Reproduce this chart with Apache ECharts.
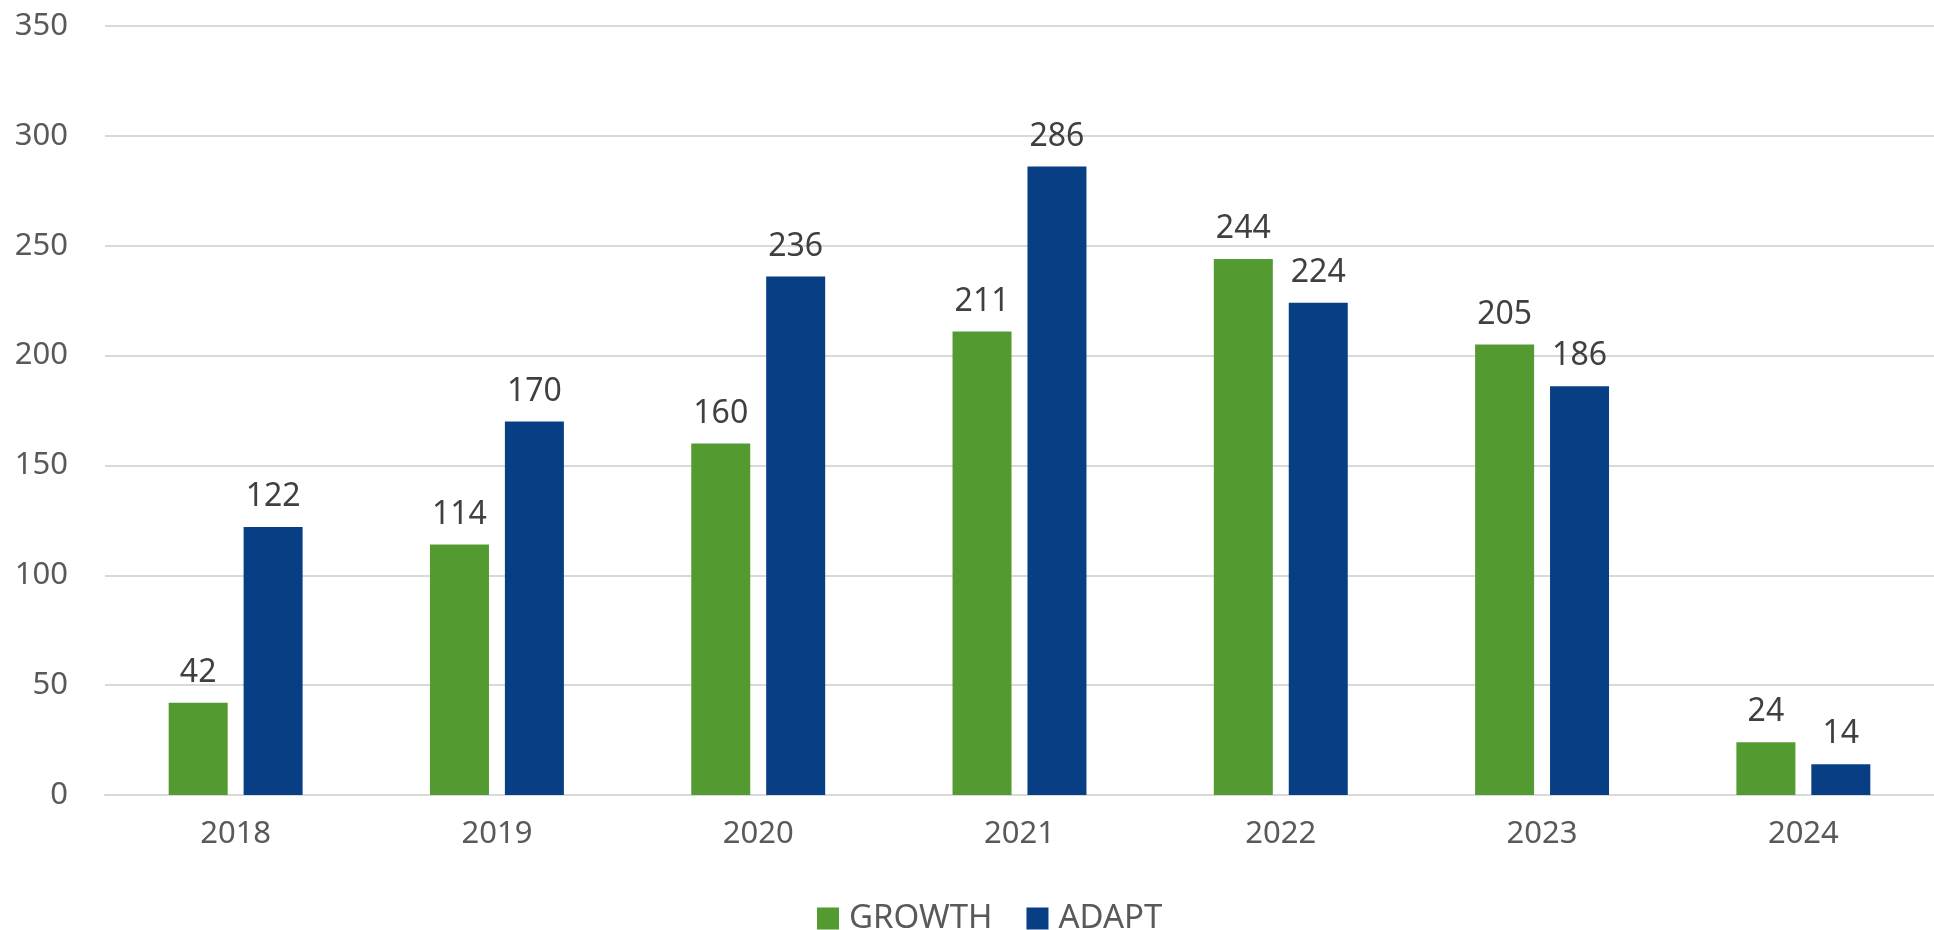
<!DOCTYPE html>
<html>
<head>
<meta charset="utf-8">
<script src="https://cdn.jsdelivr.net/npm/echarts@6/dist/echarts.min.js"></script>
<style>
html,body{margin:0;padding:0;background:#fff;}
#chart{width:1934px;height:930px;}
</style>
</head>
<body>
<div id="chart"></div>
<script>
const categories = ['2018','2019','2020','2021','2022','2023','2024'];
const growth = [42,114,160,211,244,205,24];
const adapt = [122,170,236,286,224,186,14];
const seriesNames = ['GROWTH','ADAPT'];

const chart = echarts.init(document.getElementById('chart'));
const font = '"Noto Sans", sans-serif';
const labelCfg = {
  show: true, position: 'top', distance: 14,
  color: '#404040', fontSize: 32, fontFamily: font
};
chart.setOption({
  animation: false,
  backgroundColor: '#fff',
  grid: {left: 105, right: 0, top: 26, bottom: 135, containLabel: false},
  legend: {
    data: seriesNames,
    top: 897, left: 812,
    itemWidth: 22, itemHeight: 22, itemGap: 34,
    icon: 'rect',
    textStyle: {color: '#595959', fontSize: 33, fontFamily: font, padding: [0, 0, 0, 5]}
  },
  xAxis: {
    type: 'category', data: categories,
    axisLine: {show: true, lineStyle: {color: '#d9d9d9', width: 2}},
    axisTick: {show: false},
    axisLabel: {color: '#595959', fontSize: 31, fontFamily: font, margin: 24}
  },
  yAxis: {
    type: 'value', min: 0, max: 350, interval: 50,
    axisLine: {show: false}, axisTick: {show: false},
    splitLine: {lineStyle: {color: '#d9d9d9', width: 2}},
    axisLabel: {color: '#595959', fontSize: 31, fontFamily: font, margin: 37}
  },
  series: [
    {name: seriesNames[0], type: 'bar', data: growth, barWidth: 59, barGap: '27%',
     itemStyle: {color: '#539b30'}, label: labelCfg},
    {name: seriesNames[1], type: 'bar', data: adapt, barWidth: 59, barGap: '27%',
     itemStyle: {color: '#073e84'}, label: labelCfg}
  ]
});
</script>
</body>
</html>
